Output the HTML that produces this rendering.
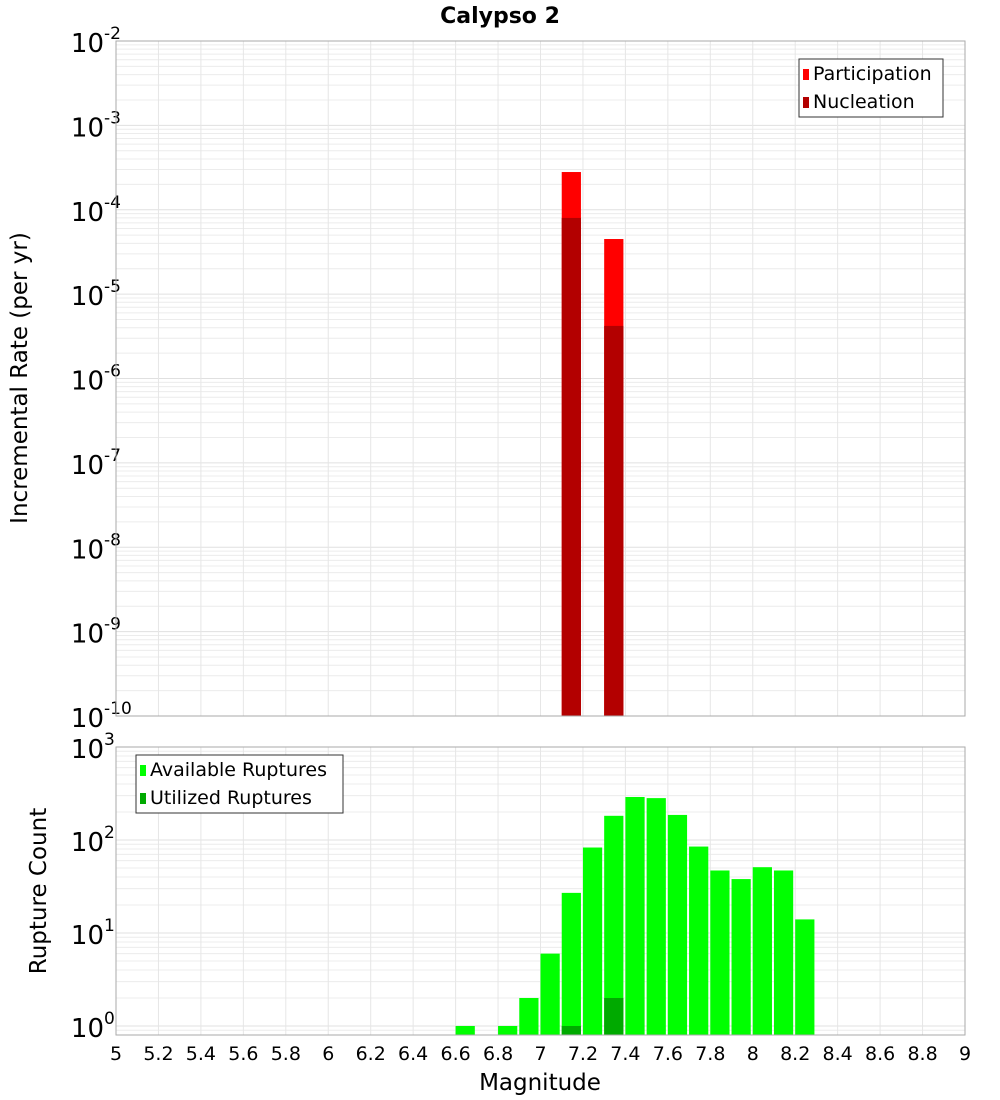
<!DOCTYPE html>
<html><head><meta charset="utf-8"><style>
body{margin:0;background:#fff;}
svg{display:block;font-family:"DejaVu Sans","Liberation Sans",sans-serif;}
</style></head><body>
<svg id="chart" width="1000" height="1100" xmlns="http://www.w3.org/2000/svg">
<rect width="1000" height="1100" fill="#fff"/>
<text x="500" y="23" text-anchor="middle" font-size="22" font-weight="bold">Calypso 2</text>
<g id="top"></g><g id="bot"></g>
<text transform="translate(27,378) rotate(-90)" text-anchor="middle" font-size="23">Incremental Rate (per yr)</text>
<text transform="translate(46,891) rotate(-90)" text-anchor="middle" font-size="23">Rupture Count</text>
<text x="540" y="1090" text-anchor="middle" font-size="23">Magnitude</text>
</svg>
<script>
const topMags=[7.1,7.3];
const participation=[2.8e-4,4.5e-5];
const nucleation=[8e-5,4.2e-6];
const botMags=[6.6,6.8,6.9,7.0,7.1,7.2,7.3,7.4,7.5,7.6,7.7,7.8,7.9,8.0,8.1,8.2];
const available=[1,1,2,6,27,83,182,290,282,186,85,47,38,51,47,14];
const utilMags=[7.1,7.3];
const utilized=[1,2];
const xTicks=["5","5.2","5.4","5.6","5.8","6","6.2","6.4","6.6","6.8","7","7.2","7.4","7.6","7.8","8","8.2","8.4","8.6","8.8","9"];

const NS="http://www.w3.org/2000/svg";
const L=116,R=965;
const xs=m=>L+(m-5)/4*(R-L);
function mk(p,t,a){const e=document.createElementNS(NS,t);for(const k in a)e.setAttribute(k,a[k]);p.appendChild(e);return e;}

function panel(g,top,bottom,eTop,eBot,yAt){
  for(let e=Math.floor(eBot);e<eTop;e++){
    for(let k=1;k<=9;k++){const v=Math.log10(k)+e;if(v<eBot||v>eTop)continue;const y=yAt(v);
      const ln=mk(g,'line',{x1:L,x2:R,y1:y,y2:y,stroke:k==1?'#e0e0e0':'#ececec','stroke-width':1});
      
      }
  }
  for(let i=1;i<xTicks.length-1;i++){const x=xs(+xTicks[i]);
    const ln=mk(g,'line',{x1:x,x2:x,y1:top,y2:bottom,stroke:'#e6e6e6','stroke-width':1});
    
    }
  for(let e=Math.ceil(eBot);e<=eTop;e++){const y=yAt(e);
    const t=mk(g,'text',{x:104,y:y+11,'text-anchor':'end','font-size':26});
    
    
    t.textContent='10';
    const s=mk(g,'text',{x:104,y:y-2,'font-size':17});
    
    
    s.textContent=String(e);}
}
function frame(g,top,bottom){
  const r=mk(g,'rect',{x:L,y:top,width:R-L,height:bottom-top,fill:'none',stroke:'#aaa','stroke-width':1});
  
  
}
function bar(g,m,y,base,fill,name){
  const r=mk(g,'rect',{x:xs(m),y:y,width:xs(m+0.1)-xs(m)-2,height:base-y,fill:fill});
  
  
}
function legend(g,x,y,w,items){
  const b=mk(g,'rect',{x:x,y:y,width:w,height:58,fill:'#fff',stroke:'#333','stroke-width':1});
  
  
  items.forEach((it,i)=>{
    const s=mk(g,'rect',{x:x+4,y:y+10+i*28,width:6,height:11,fill:it[1]});
    
    
    const t=mk(g,'text',{x:x+14,y:y+21+i*28,'font-size':19});
    
    
    t.textContent=it[0];
  });
}
const gT=document.getElementById('top');
const tT=41,tB=716,teTop=-2,teBot=-10;
const yT=v=>tT+(teTop-v)/(teTop-teBot)*(tB-tT);
panel(gT,tT,tB,teTop,teBot,yT);
topMags.forEach((m,i)=>{bar(gT,m,yT(Math.log10(participation[i])),tB,'#ff0000','participation-bar');
  bar(gT,m,yT(Math.log10(nucleation[i])),tB,'#b30000','nucleation-bar');});
frame(gT,tT,tB);
legend(gT,799,59,144,[['Participation','#ff0000'],['Nucleation','#b30000']]);
const gB=document.getElementById('bot');
const bT=747,bB=1035,beTop=3,beBot=-0.097;
const yB=v=>bT+(beTop-v)/(beTop-beBot)*(bB-bT);
panel(gB,bT,bB,beTop,beBot,yB);
botMags.forEach((m,i)=>bar(gB,m,yB(Math.log10(available[i])),bB,'#00ff00','available-bar'));
utilMags.forEach((m,i)=>bar(gB,m,yB(Math.log10(utilized[i])),bB,'#00aa00','utilized-bar'));
frame(gB,bT,bB);
legend(gB,136,755,207,[['Available Ruptures','#00ff00'],['Utilized Ruptures','#00aa00']]);
xTicks.forEach(t=>{const e=mk(gB,'text',{x:xs(+t),y:1060,'text-anchor':'middle','font-size':19});
  
  
  e.textContent=t;});
</script>
</body></html>
